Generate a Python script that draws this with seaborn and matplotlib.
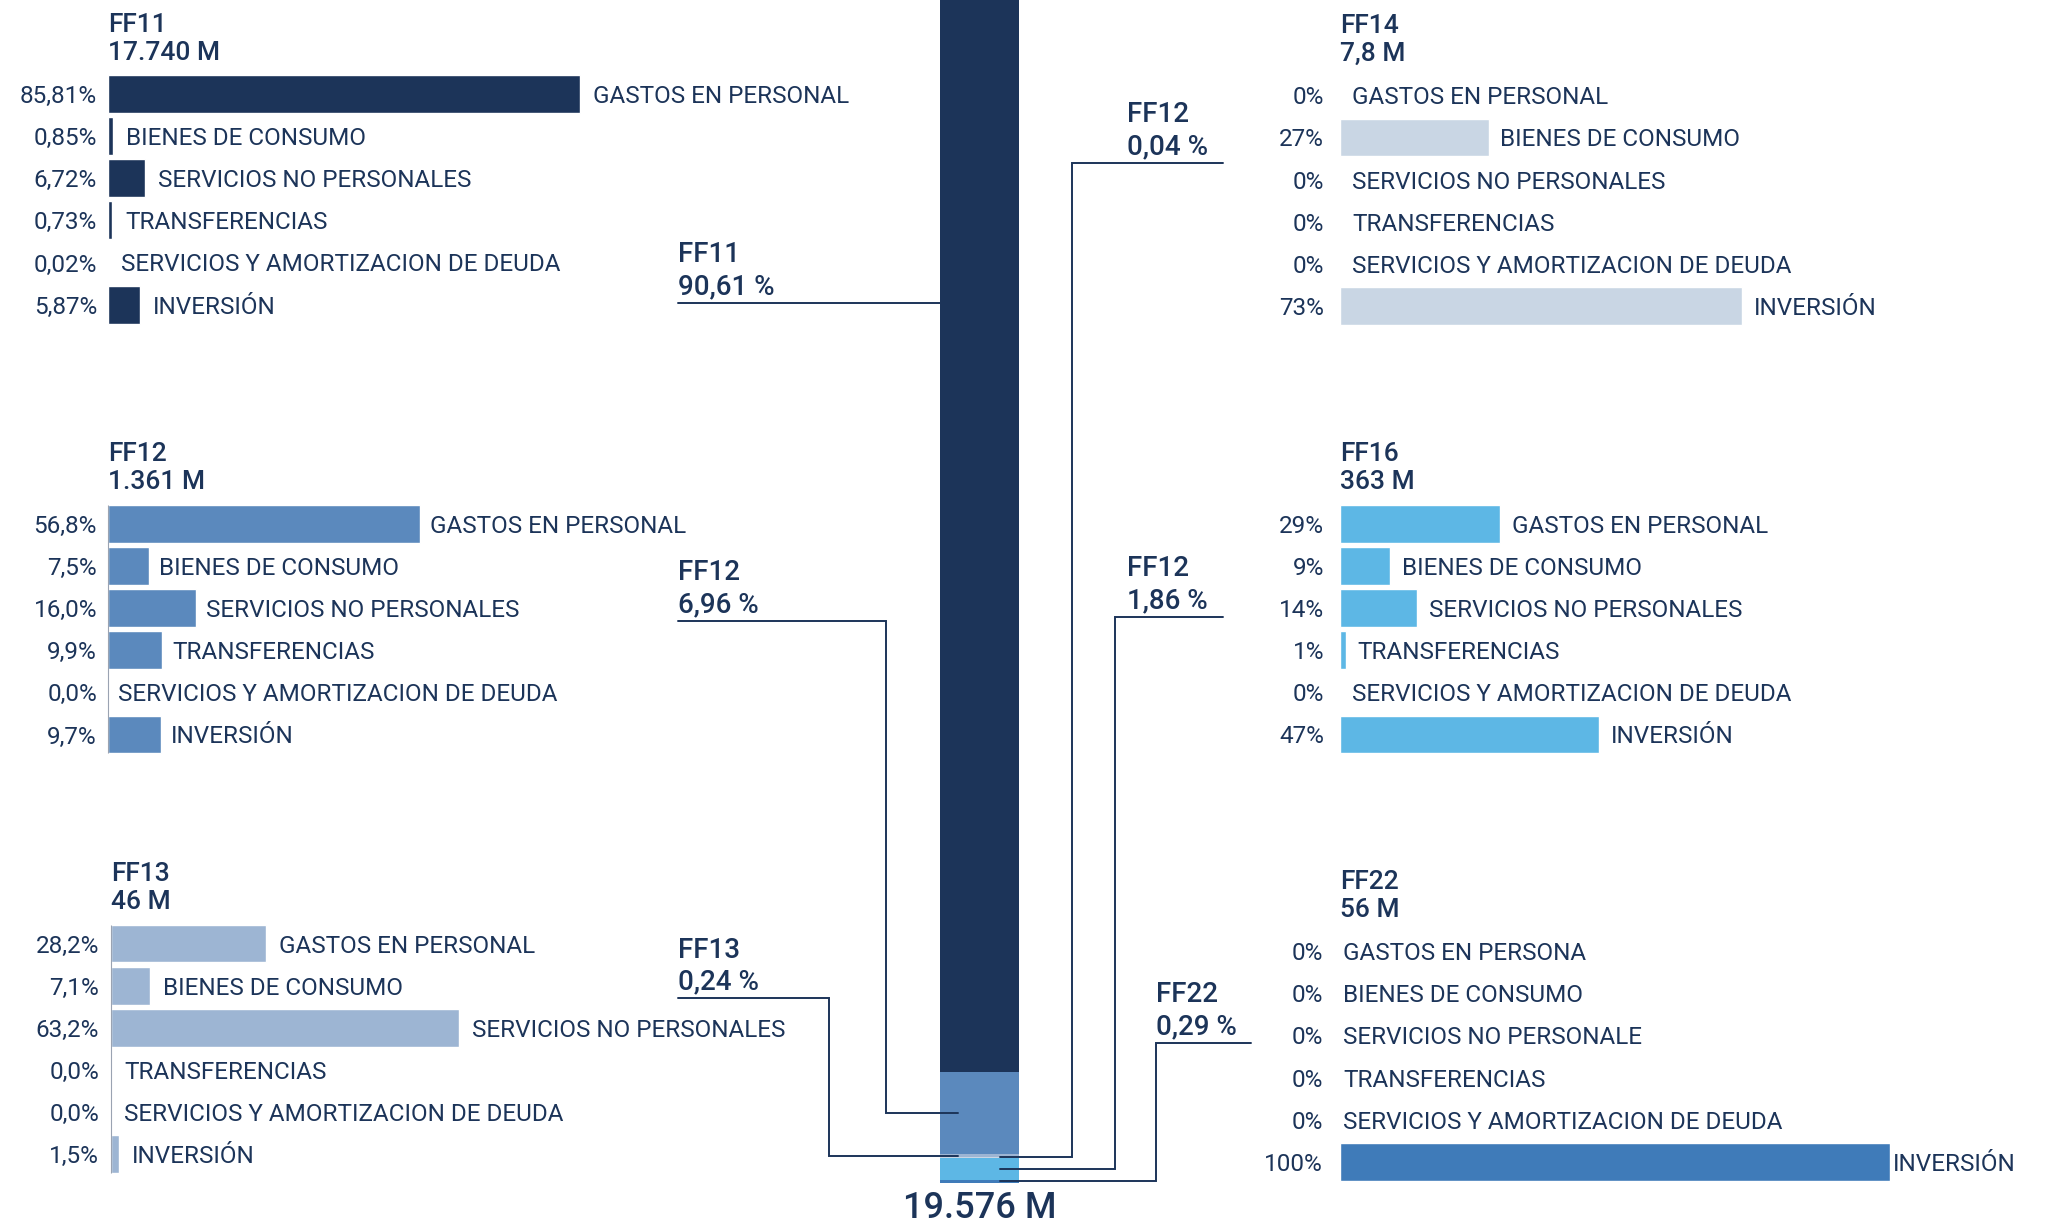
import numpy as np
import pandas as pd
import matplotlib
matplotlib.use("Agg")
import matplotlib.pyplot as plt
import seaborn as sns

# ---------------------------------------------------------------- data
categories = ["GASTOS EN PERSONAL", "BIENES DE CONSUMO", "SERVICIOS NO PERSONALES",
              "TRANSFERENCIAS", "SERVICIOS Y AMORTIZACION DE DEUDA", "INVERSIÓN"]
categories_ff22 = ["GASTOS EN PERSONA", "BIENES DE CONSUMO", "SERVICIOS NO PERSONALE",
                   "TRANSFERENCIAS", "SERVICIOS Y AMORTIZACION DE DEUDA", "INVERSIÓN"]

ff11_pct = [85.81, 0.85, 6.72, 0.73, 0.02, 5.87]
ff12_pct = [56.8, 7.5, 16.0, 9.9, 0.0, 9.7]
ff13_pct = [28.2, 7.1, 63.2, 0.0, 0.0, 1.5]
ff14_pct = [0, 27, 0, 0, 0, 73]
ff16_pct = [29, 9, 14, 1, 0, 47]
ff22_pct = [0, 0, 0, 0, 0, 100]

fund_names = ["FF11", "FF12", "FF13", "FF14", "FF16", "FF22"]
fund_amounts = ["17.740 M", "1.361 M", "46 M", "7,8 M", "363 M", "56 M"]
fund_share = [90.61, 6.96, 0.24, 0.04, 1.86, 0.29]
share_names = ["FF11", "FF12", "FF13", "FF12", "FF12", "FF22"]
total_label = "19.576 M"

# ---------------------------------------------------------------- style
sns.set_theme(style="white")
plt.rcParams["font.family"] = ["Roboto", "DejaVu Sans"]

NAVY = "#1c3459"
colors = ["#1c3459", "#5b89bd", "#9db5d3", "#c9d6e4", "#5db7e5", "#3f7bb9"]

W, H = 2049, 1229
fig = plt.figure(figsize=(W / 100, H / 100), dpi=100)
fig.patch.set_facecolor("white")


def px_axes(x, y, w, h):
    """Axes placed by its top-left corner and size in pixels."""
    ax = fig.add_axes([x / W, 1 - (y + h) / H, w / W, h / H])
    ax.patch.set_alpha(0)
    return ax


PT = 0.72          # points per pixel at 100 dpi
ROW = 42.1         # row pitch of the small bar panels, px
PANEL_W = 550      # px spanned by 0..100 %

# fund index, values, labels, axis x, first row y, decimals,
# percent offset, label gap, draw baseline
panels = [
    (0, ff11_pct, categories, 108, 94.1, 2, 11, 13, False),
    (1, ff12_pct, categories, 108, 524.0, 1, 11, 10, True),
    (2, ff13_pct, categories, 111, 943.5, 1, 12, 13, True),
    (3, ff14_pct, categories, 1340, 95.4, 0, 16, 12, False),
    (4, ff16_pct, categories, 1340, 524.0, 0, 16, 12, False),
    (5, ff22_pct, categories_ff22, 1340, 951.3, 0, 17, 3, False),
]


def fmt_pct(v, dec, sep=""):
    return f"{v:.{dec}f}".replace(".", ",") + sep + "%"


for idx, vals, cats, x0, y0, dec, off, gap, baseline in panels:
    ax = px_axes(x0, y0 - ROW / 2, PANEL_W, 6 * ROW)
    df = pd.DataFrame({"categoria": cats, "pct": vals})
    sns.barplot(data=df, x="pct", y="categoria", orient="h", color=colors[idx],
                saturation=1, width=0.9, ax=ax)
    ax.set_xlim(0, 100)
    ax.set_ylim(5.5, -0.5)
    ax.axis("off")
    if baseline:
        ax.plot([0, 0], [-0.45, 5.45], color="#9aa3b2", lw=0.8,
                solid_capstyle="butt", clip_on=False)
    for i, (c, v) in enumerate(zip(cats, vals)):
        ax.annotate(fmt_pct(v, dec), xy=(0, i), xytext=(-off * PT, 0),
                    textcoords="offset points", ha="right", va="center_baseline",
                    fontsize=17.5, color=NAVY, annotation_clip=False)
        ax.annotate(c, xy=(v, i), xytext=(gap * PT, 0),
                    textcoords="offset points", ha="left", va="center_baseline",
                    fontsize=17.5, color=NAVY, annotation_clip=False)
    ax.annotate(fund_names[idx], xy=(0, 0), xytext=(0, 72 * PT),
                textcoords="offset points", ha="left", va="center_baseline",
                fontsize=19, fontweight="medium", color=NAVY, annotation_clip=False)
    ax.annotate(fund_amounts[idx], xy=(0, 0), xytext=(0, 44 * PT),
                textcoords="offset points", ha="left", va="center_baseline",
                fontsize=19, fontweight="medium", color=NAVY, annotation_clip=False)

# ---------------------------------------------------------------- central stack
ax_bar = px_axes(940, 0, 79, 1183)
share = np.array(fund_share)
bottoms = np.concatenate([[0], np.cumsum(share)[:-1]])
ax_bar.bar(np.zeros(len(share)), share, bottom=bottoms, width=1.0,
           color=colors, linewidth=0)
ax_bar.set_xlim(-0.5, 0.5)
ax_bar.set_ylim(share.sum(), 0)
ax_bar.axis("off")

# overlay in pixel units for the callouts
ov = fig.add_axes([0, 0, 1, 1])
ov.set_xlim(0, W)
ov.set_ylim(H, 0)
ov.axis("off")
ov.patch.set_alpha(0)


def seg_mid_px(i):
    """Vertical pixel position of the middle of stack segment i."""
    disp = ax_bar.transData.transform((0, bottoms[i] + share[i] / 2))
    return ov.transData.inverted().transform(disp)[1]


# text x, underline y, elbow x, tip x, underline end x
callouts = [
    (0, 678, 303, None, 940, None),
    (1, 678, 621, 886, 958, None),
    (2, 678, 998, 829, 958, None),
    (3, 1127, 163, 1072, 1000, 1223),
    (4, 1127, 617, 1115, 1000, 1223),
    (5, 1156, 1043, 1156, 1000, 1251),
]

for idx, tx, uy, ex, tip, uend in callouts:
    if ex is None:
        xs, ys = [tx, tip], [uy, uy]
    else:
        ym = seg_mid_px(idx)
        start = tx if uend is None else uend
        xs = [start, ex, ex, tip]
        ys = [uy, uy, ym, ym]
    ov.plot(xs, ys, color=NAVY, lw=1.4, solid_joinstyle="miter", zorder=5)
    ov.text(tx, uy - 51, share_names[idx], ha="left", va="center_baseline",
            fontsize=20, fontweight="medium", color=NAVY)
    ov.text(tx, uy - 19, fmt_pct(fund_share[idx], 2, " "), ha="left",
            va="center_baseline", fontsize=20, fontweight="medium", color=NAVY)

ov.text(979.5, 1204, total_label, ha="center", va="center_baseline",
        fontsize=26, fontweight="medium", color=NAVY)

fig.savefig("out.png", dpi=100, facecolor="white")
